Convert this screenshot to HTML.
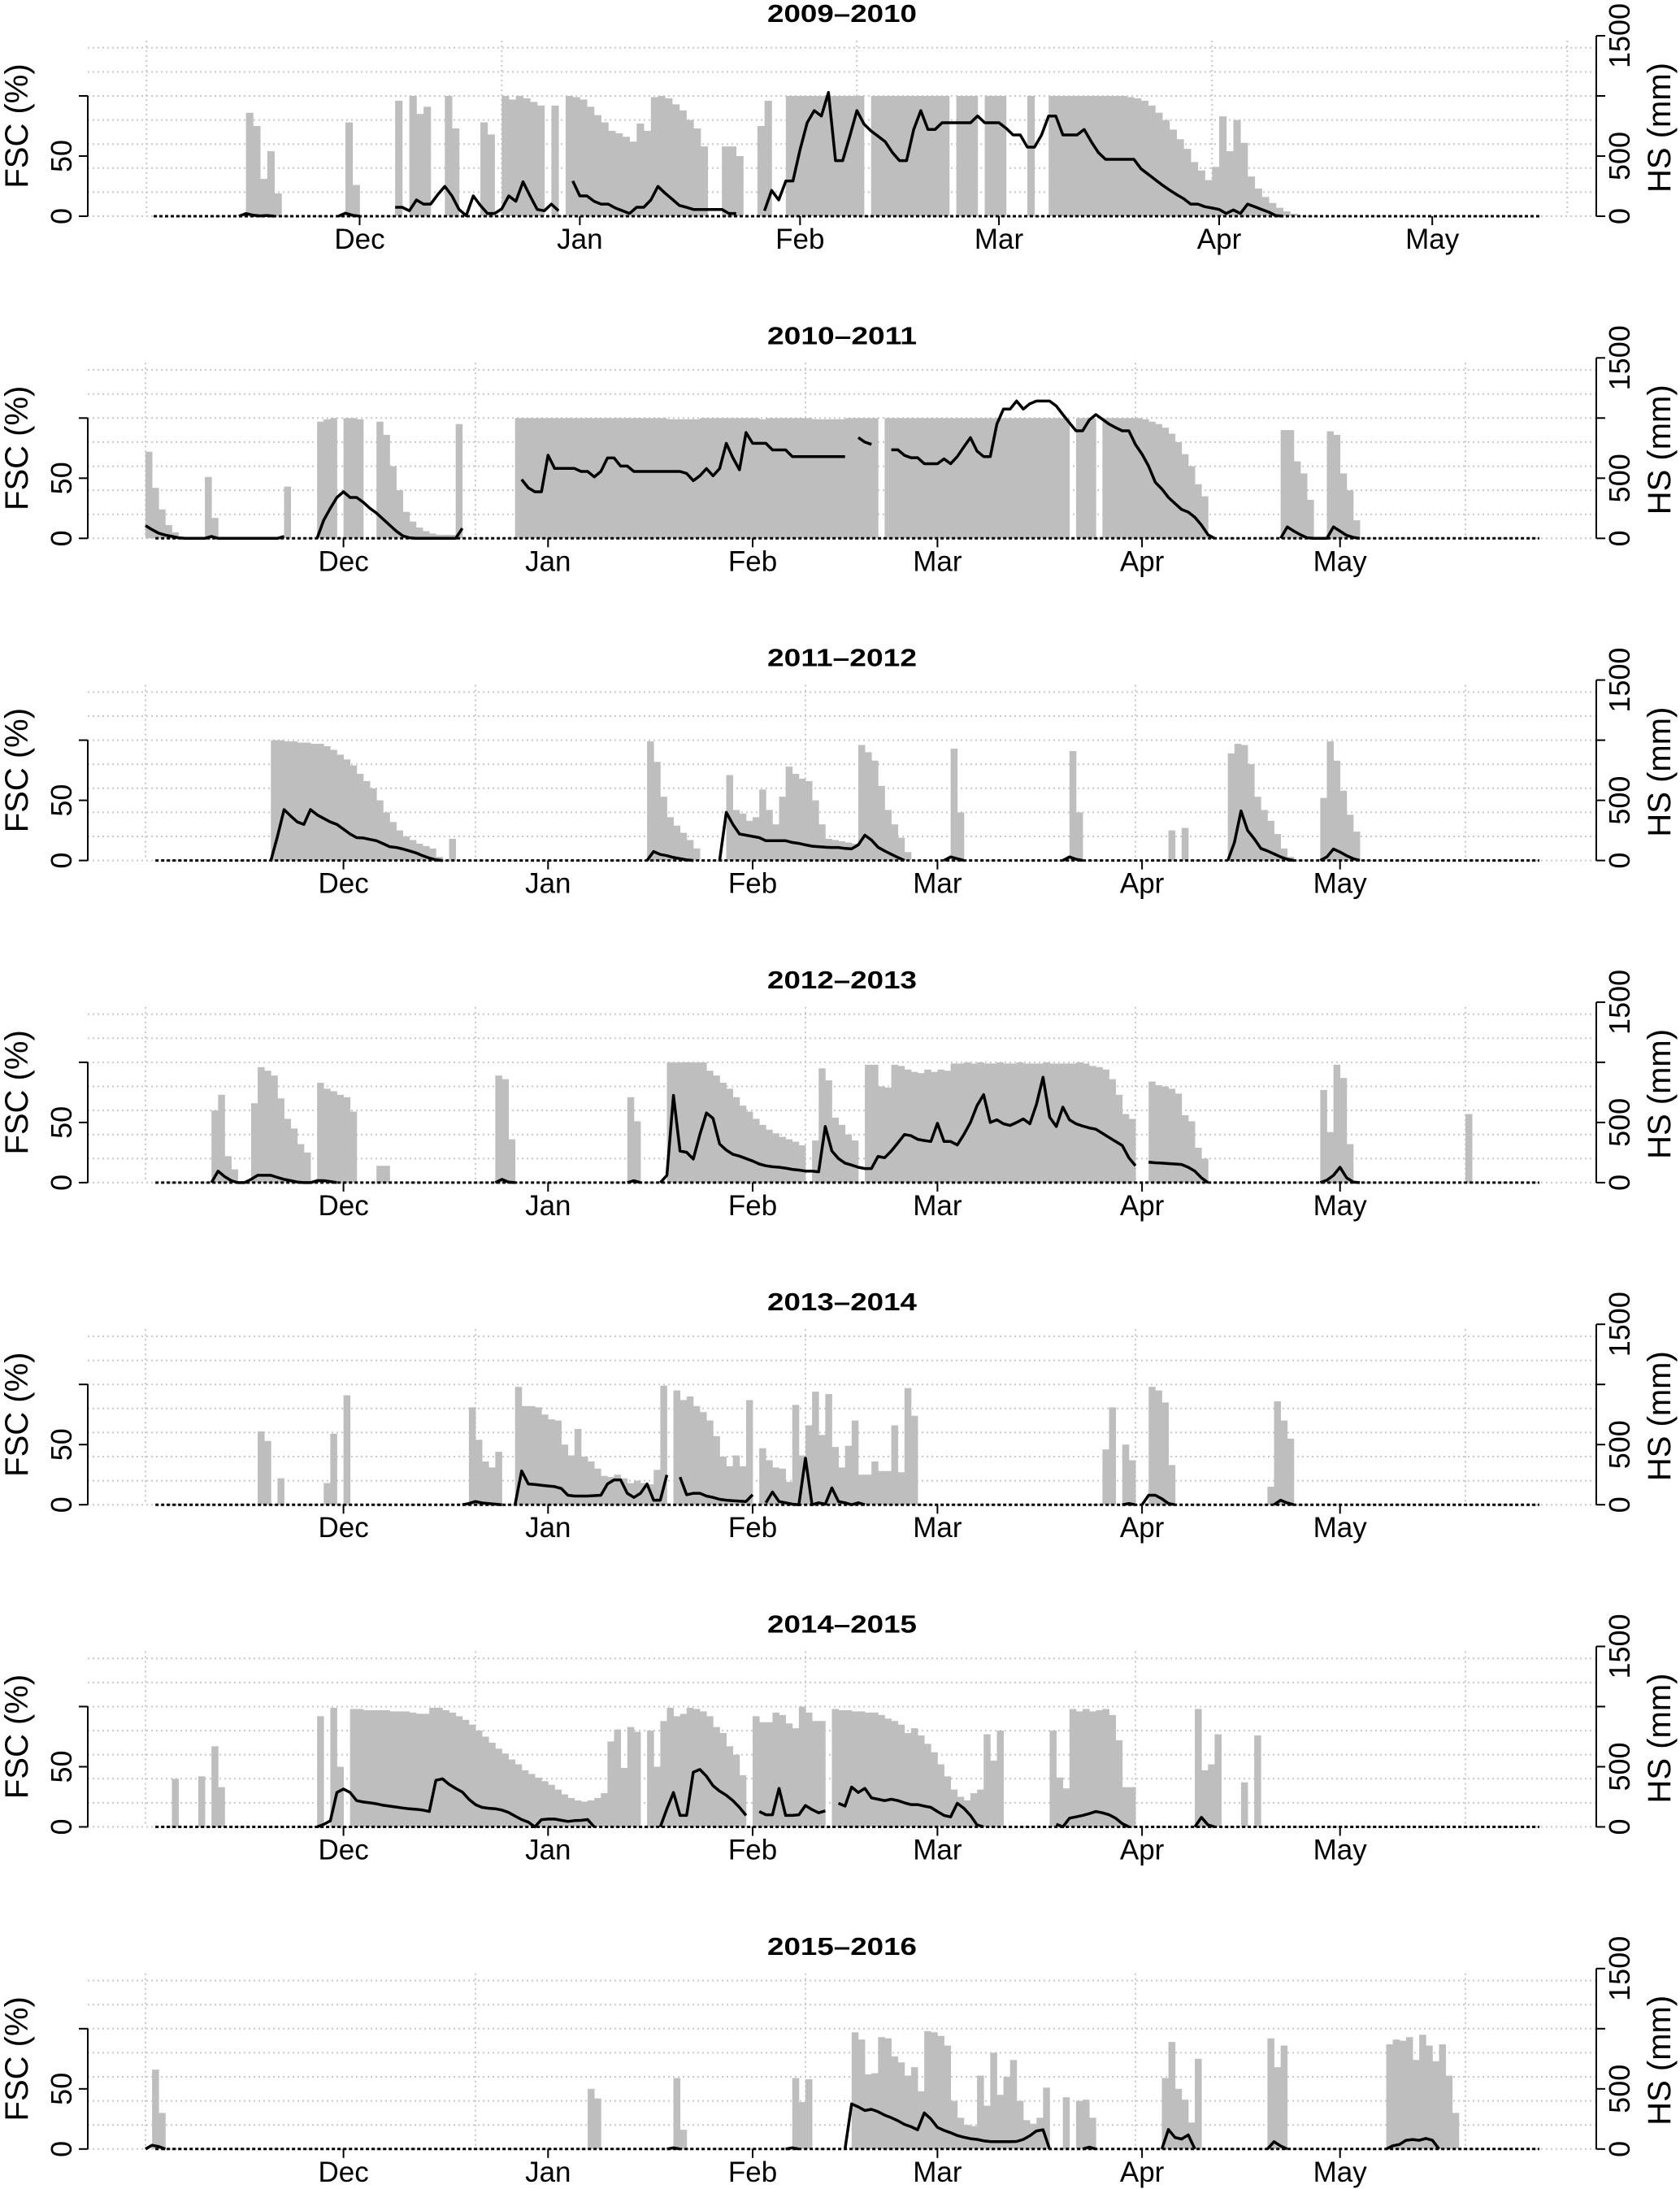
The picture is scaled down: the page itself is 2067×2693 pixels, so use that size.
<!DOCTYPE html>
<html><head><meta charset="utf-8"><style>
html,body{margin:0;padding:0;background:#fff;}
svg{display:block;font-family:"Liberation Sans",Arial,sans-serif;}
</style></head><body>
<svg id="chart" xmlns="http://www.w3.org/2000/svg" width="2067" height="2693" viewBox="0 0 2067 2693"></svg>
<script>
const titles = ["2009–2010","2010–2011","2011–2012","2012–2013","2013–2014","2014–2015","2015–2016"];
const monthLabels = ["Dec","Jan","Feb","Mar","Apr","May"];
const monthDays1 = [29,60,91,119,150,180];
const monthDays = [30,61,92,120,151,181];
const fscGridVals = [0,20,40,60,80,100,120,140];
const fscTicks = [0,50,100];
const fscTickLabels = ["0","50",""];
const hsTicks = [0,500,1000,1500];
const hsTickLabels = ["0","500","","1500"];

const fsc1 = [[13,86,75,31,54,19],[27,78,26],[34,96],[36,100,85,91],[41,100,73],[46,78,68],[49,100,97,100,98,95,92],[56,92],
[58,100,99,97,91,84,78,71,69,66,62,77,71,99,100,98,93,88,80,73,58],[80,58,58,50],[85,75,96],
[89,100,100,100,100,100,100,100,100,100,100,100],[101,100,100,100,100,100,100,100,100,100,100,100],[113,100,100,100],[117,100,100,100],[123,100],
[126,100,100,100,100,100,100,100,100,100,100,100,99,98,96,92,86,80,72,64,56,45,38,30,41,83,54,80,61,33,23,16,11,7,4,2]];
const hs1 = [[12,0,22,8,3,6,0],[26,0,25,8,0],
[34,74,74,45,135,101,101,180,248,169,56,5,169,90,23,23,61,169,124,286,169,56,45,101,45],
[59,293,169,169,124,101,101,68,45,23,74,74,135,248,191,142,90,74,56,56,56,56,56,23,23],
[86,45,214,135,293,293,552,777,878,833,1029,462,462,664,878,766,709,664,619,529,462,462,721,878,721,721,777,777,777,777,777,833,777,777,777,732,676,676,574,574,676,833,833,676,676,676,721,619,529,473,473,473,473,473,394,349,304,259,218,180,146,101,101,79,68,56,23,52,23,101,79,56,34,5,0]];

const fsc2 = [[0,72,42,24,11,5],[9,51,17],[21,43],[26,97,99,100],[30,100,100,99],[35,97,86,60,40,22,14,9,6,4,3,3,3],[47,95],
[56,100,100,100,100,100,100,100,100,100,100,100,100,100,100,100,100,100,100,100,100,100,100,100,99,99,99,99,99,100,100,100,100],
[88,100,100,100,100,100,99,100,100,100,100,100,100,100,99,99,99,99,99,100],[107,100,100,100,100],
[112,100,100,100,100,100,100,100,100,100,100,100,100,100,100,100,100,100,100,100,100,100,100,100,100,100,100],
[138,100,100],[141,100,100,100],[145,100,100,100,100,100,100,99,97,95,92,87,80,70,60,45,35],[172,90,90,64,54,32],[179,89,86,54,40,15]];
const hs2 = [[0,106,72,43,27,16,5,0,0,0,0,16,0,0,0,0,0,0,0,0,0,0,16],
[26,0,150,250,340,387,340,340,300,250,210,160,110,60,20,5,0,0,0,0,0,0,0,83],
[57,489,420,387,387,691,581,581,581,581,556,556,511,556,668,668,601,601,556,556,556,556,556,556,556,556,540,480,520,580,520,580,790,670,570,880,790,790,790,735,735,735,680,680,680,680,680,680,680,680,680],
[108,838,800,781],
[113,736,736,690,670,670,620,620,620,660,620,680,760,837,725,680,680,950,1074,1074,1141,1074,1119,1141,1141,1141,1100,1029,960,894,894,984,1029,990,950,920,894,894,780,700,600,466,410,340,290,240,218,175,110,30,0],
[172,0,95,60,30,5,0,0,0,95,60,25,8,0]];

const fsc3 = [[19,100,100,99,99,98,98,97,97,95,92,88,84,79,72,66,60,50,40,32,25,20,17,14,12,10,3,0,18],
[76,99,82,53,36,29,23,17,10],
[88,71,42,39,33,36,59,42,30,53,78,72,68,66,50,30,18,17,16,15,14,96,90,83,62,42,30,19,7],
[122,93,40],[140,91,40],[155,25,0,27],[164,89,97,96,80,53,42,33,22,10,3],[178,52,99,83,58,38,24]];
const hs3 = [[19,0,200,423,370,320,300,423,380,350,320,300,260,220,190,187,175,164,140,115,108,95,80,63,40,20,5,0],
[76,0,74,50,40,25,15,5,0],
[87,0,400,300,220,210,200,190,164,164,164,164,150,142,130,119,115,110,108,108,100,97,130,210,170,110,80,52,25,0],
[121,0,30,15,0],[139,0,30,10,0],[164,0,150,412,250,180,100,80,55,30,10,0],[178,0,30,95,70,40,15,0]];

const fsc4 = [[10,60,73,22,11],[16,66,96,93,89,70,53,45,32,25],[26,83,78,76,73,71,59],[35,14,14],[53,89,86,36],[73,71,51],
[79,100,100,100,100,100,100,93,89,83,78,71,64,59,53,48,44,41,38,36,34,31],
[101,35,95,85,54,48,40,35],[109,98,98,80,79],
[113,98,97,94,92,91,94,92,94,93,99,99,100,99,100,99,99,100,99,99,100,99,99,99,100,99,99,99,99,100,99,97,96,94,86,73,57,53],
[152,84,81,80,78,74,56,51,29,20],[178,77,42,98,87,32],[200,57]];
const hs4 = [[10,0,95,50,16,0,0,27,61,61,61,43,27,16,5,0,0,16,16,9,0],[53,0,27,5,0],[73,0,16,0],
[78,0,60,725,263,252,196,400,579,534,320,270,235,220,200,180,155,140,132,128,120,110,104,96,95,90,466,263,200,162,146,128,117,117,218,207,263,330,400,390,360,350,342,493,342,342,313,400,500,640,732,500,522,489,475,500,529,489,650,876,545,466,628,522,489,470,455,444,410,376,342,308,207,140],
[152,170,165,162,158,155,151,128,95,40,0],[178,0,20,60,128,40,5,0]];

const fsc5 = [[17,61,53],[20,22],[27,18,59],[30,91],[49,81,54,36,31,44],
[56,98,82,82,81,75,71,70,50,41,63,40,36,30,24,23,25,22,18,20,18,17,29,99],
[80,95,87,90,82,77,70,57,40,32,41,32,87],
[93,47,37,31,30,19,83,41,66,94,58,92,48,31,49,70,25,25,36,28,28,66,27,97,74],
[145,46,81],[148,50,37],[152,98,95,85,33],[170,15,86,70,55]];
const hs5 = [[48,0,10,27,15,10,5,0],
[56,0,281,173,168,162,156,151,135,79,72,72,72,76,79,173,207,207,95,61,95,173,38,38,248],
[81,230,83,95,95,72,61,45,38,34,30,27,83],
[94,16,106,27,16,5,0,387,0,16,5,140,27,16,0,16,0],
[148,0,10,0],[151,0,79,79,50,10,0],[171,0,38,15,0]];

const fsc6 = [[4,40],[8,42],[10,67,33],[26,92],[28,99,50],
[31,98,98,97,97,97,97,96,96,96,95,94,94,99,99,97,95,92,89,85,80,75,70,65,61,56,52,47,44,41,38,35,31,27,24,22,21,22,24,28,71,81,49,83,79],
[76,80,50,88,99,92,94,99,98,96,92,83,78,67,60,43],
[92,92,87,87,95,93,86,82,100,95,88,88],
[104,98,97,97,96,96,95,95,93,90,88,85,78,82,76,69,62,52,42,31,25,22,28,31,77,55,80],
[137,80,41,32,98,96,98,96,97,98,93,72,33,33],
[159,98,47,52,77],[166,37],[168,76]];
const hs6 = [[26,0,20,50,286,315,286,218,207,200,192,180,172,165,157,150,146,140,128,387,399,354,320,290,230,185,162,155,151,140,120,90,61,40,0,60,65,65,55,45,52,54,61,0],
[78,0,150,286,95,95,455,477,421,342,297,263,218,162,95],
[93,128,101,101,320,95,95,101,178,144,117,133],
[105,196,173,331,286,320,241,230,218,230,218,200,185,185,173,162,128,95,83,196,155,95,16,0],
[138,22,0,72,83,95,110,128,117,101,72,27,0],
[159,0,79,16,0]];

const fsc7 = [[1,66,30],[67,50,42],[80,59,16],[98,59,39,58],
[107,97,91,62,63,93,92,77,72,61,68,48,98,97,94,86,40,26,20,19,61,36,80,45,60,74,40,24,21,26,51],
[139,43],[141,40,41,26],[154,59,89,50,41,22,75],[170,92,68,86],[188,87,91,90,93,74,95,86,73,87,61,30]];
const hs7 = [[0,0,31,20,0],[79,0,10,0],[97,0,10,0],
[106,0,375,350,320,330,310,282,260,235,205,185,160,300,250,180,155,135,112,98,86,80,68,62,61,61,61,63,80,110,150,160,0],
[142,0,15,0],[154,0,162,95,83,117,0],[170,0,61,25,0],[188,0,27,38,72,79,72,88,72,0]];

const fscAll = [fsc1,fsc2,fsc3,fsc4,fsc5,fsc6,fsc7];
const hsAll = [hs1,hs2,hs3,hs4,hs5,hs6,hs7];

const NS = "http://www.w3.org/2000/svg";
const svg = document.getElementById("chart");
function mk(tag, attrs, parent){
  const e = document.createElementNS(NS, tag);
  for (const k in attrs) e.setAttribute(k, attrs[k]);
  (parent||svg).appendChild(e);
  return e;
}
const AXL = 108, AXR = 1964;
for (let i = 0; i < 7; i++) {
  const p = i * 396.3;
  const first = i === 0;
  const x0 = first ? 189 : 179;
  const w = first ? 8.74 : 8.12;
  const nDays = first ? 196 : 212;
  const mDays = first ? monthDays1 : monthDays;
  const gridStart = first ? -1 : 0;
  const blStart = first ? 0 : 1.5;
  const xOf = d => x0 + d * w;
  const yF = v => p + 266 - v * 1.48;
  const yH = mm => p + 266 - mm * 0.148;

  const g = mk("g", {});
  
  

  const grid = mk("g", {stroke:"#c8c8c8","stroke-width":2,"stroke-dasharray":"2,4",fill:"none"}, g);
  
  
  fscGridVals.forEach(v => {
    const l = mk("line", {x1:AXL, x2:AXR, y1:yF(v), y2:yF(v)}, grid);
    
    
  });
  for (let k = 0; k < 5; k++) {
    const x = xOf(gridStart + 50 * k);
    const l = mk("line", {x1:x, x2:x, y1:p+50, y2:p+266}, grid);
    
    
  }

  const bars = mk("g", {fill:"#bebebe"}, g);
  
  
  fscAll[i].forEach(seg => {
    const s = seg[0];
    for (let j = 1; j < seg.length; j++) {
      const v = seg[j];
      if (!v) continue;
      const d = s + j - 1;
      const r = mk("rect", {x:xOf(d), y:yF(v), width:w + 0.4, height:v * 1.48}, bars);
      
      
    }
  });

  const bl = mk("line", {x1:xOf(blStart), x2:xOf(nDays - 0.8), y1:p+266, y2:p+266, stroke:"#000","stroke-width":3,"stroke-dasharray":"4,3"}, g);
  
  

  hsAll[i].forEach(seg => {
    const s = seg[0];
    const pts = [];
    for (let j = 1; j < seg.length; j++) pts.push(xOf(s + j - 1).toFixed(1) + "," + yH(seg[j]).toFixed(1));
    const pl = mk("polyline", {points:pts.join(" "), fill:"none", stroke:"#000", "stroke-width":3.5, "stroke-linejoin":"round"}, g);
    
    
  });

  const la = mk("g", {stroke:"#000","stroke-width":2}, g);
  
  
  mk("line", {x1:AXL, x2:AXL, y1:yF(100), y2:yF(0)}, la);
  fscTicks.forEach((v, k) => {
    mk("line", {x1:AXL - 11, x2:AXL, y1:yF(v), y2:yF(v)}, la);
    if (fscTickLabels[k]) {
      const t = mk("text", {x:0, y:0, transform:`translate(88,${yF(v)}) rotate(-90)`, "text-anchor":"middle", "font-size":36, stroke:"none", fill:"#000"}, g);
      t.textContent = fscTickLabels[k];
      
      
    }
  });
  const lt = mk("text", {x:0, y:0, transform:`translate(34,${p+155}) rotate(-90)`, "text-anchor":"middle", "font-size":40, fill:"#000"}, g);
  lt.textContent = "FSC (%)";
  
  

  const ra = mk("g", {stroke:"#000","stroke-width":2}, g);
  
  
  mk("line", {x1:AXR, x2:AXR, y1:yH(1500), y2:yH(0)}, ra);
  hsTicks.forEach((v, k) => {
    mk("line", {x1:AXR, x2:AXR + 11, y1:yH(v), y2:yH(v)}, ra);
    if (hsTickLabels[k]) {
      const t = mk("text", {x:0, y:0, transform:`translate(2005,${yH(v)}) rotate(-90)`, "text-anchor":"middle", "font-size":36, fill:"#000"}, g);
      t.textContent = hsTickLabels[k];
      
      
    }
  });
  const rt = mk("text", {x:0, y:0, transform:`translate(2055,${p+157}) rotate(-90)`, "text-anchor":"middle", "font-size":40, fill:"#000"}, g);
  rt.textContent = "HS (mm)";
  
  

  mDays.forEach((d, k) => {
    const x = xOf(d);
    const tk = mk("line", {x1:x, x2:x, y1:p+266, y2:p+277, stroke:"#000","stroke-width":2}, g);
    
    
    const t = mk("text", {x:x, y:p+306, "text-anchor":"middle", "font-size":35, fill:"#000"}, g);
    t.textContent = monthLabels[k];
    
    
  });

  const tt = mk("text", {x:1036, y:p+27, "text-anchor":"middle", "font-size":31, "font-weight":"bold", fill:"#000", textLength:184, lengthAdjust:"spacingAndGlyphs"}, g);
  tt.textContent = titles[i];
  
  
}
</script>
</body></html>
